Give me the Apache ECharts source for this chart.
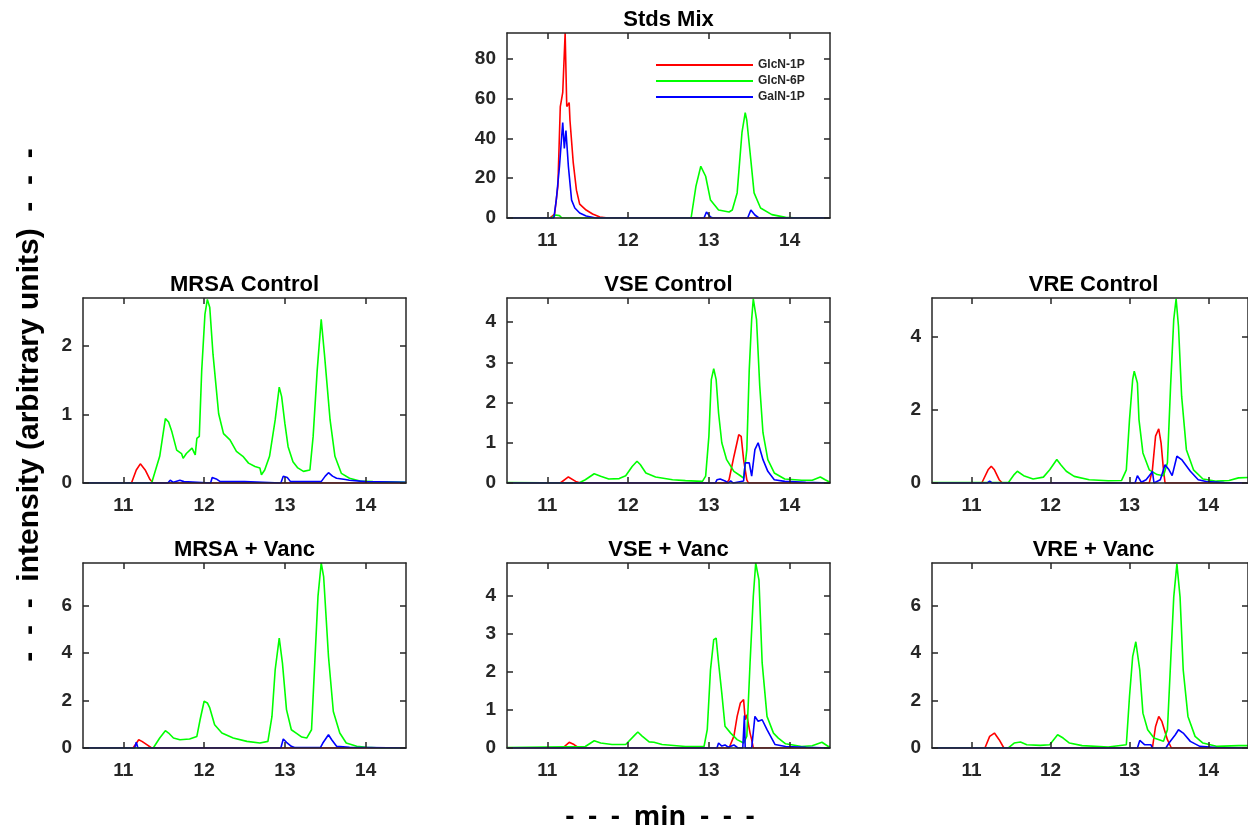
<!DOCTYPE html>
<html>
<head>
<meta charset="utf-8">
<script src="https://cdn.jsdelivr.net/npm/echarts@6/dist/echarts.min.js"></script>
<style>
  html, body { margin: 0; padding: 0; background: #fff; }
  #main { width: 1248px; height: 835px; }
</style>
</head>
<body>
<div id="main"></div>
<script>
// ---- data (time in min, intensity) ----
var compoundNames = ['GlcN-1P', 'GlcN-6P', 'GalN-1P'];
var panelTitles = ['Stds Mix', 'MRSA Control', 'VSE Control', 'VRE Control', 'MRSA + Vanc', 'VSE + Vanc', 'VRE + Vanc'];
var timeTicks = [11, 12, 13, 14];
var yTickValues = [
  [0, 20, 40, 60, 80],
  [0, 1, 2],
  [0, 1, 2, 3, 4],
  [0, 2, 4],
  [0, 2, 4, 6],
  [0, 1, 2, 3, 4],
  [0, 2, 4, 6]
];
var yMaxValues = [93, 2.7, 4.6, 5.05, 7.8, 4.85, 7.8];

var stdsGlcN1P = [[10.5,0],[11.03,0],[11.09,2],[11.13,16],[11.16,56],[11.19,63],[11.22,93],[11.24,56],[11.27,58],[11.28,49],[11.32,28],[11.36,14],[11.40,7],[11.48,4],[11.56,2],[11.65,0.5],[11.75,0],[14.5,0]];
var stdsGlcN6P = [[10.5,0],[11.05,0],[11.1,1.5],[11.15,1.2],[11.18,0],[12.78,0],[12.84,16],[12.9,26],[12.92,27],[12.96,21],[13.02,9],[13.12,4],[13.25,3],[13.29,4],[13.35,12.6],[13.41,43],[13.45,53],[13.47,49],[13.52,29],[13.56,12.6],[13.64,5],[13.78,1.7],[13.95,0.3],[14.1,0],[14.5,0]];
var stdsGalN1P = [[10.5,0],[11.08,0],[11.11,9],[11.15,26],[11.19,48],[11.21,35],[11.23,44],[11.26,26],[11.30,9],[11.34,5],[11.40,2.5],[11.48,1],[11.6,0],[12.94,0],[12.97,3],[13.02,0.5],[13.05,0],[13.48,0],[13.52,4],[13.57,1.5],[13.62,0],[14.5,0]];

var mrsaCtrlGlcN1P = [[10.5,0],[11.10,0],[11.16,0.19],[11.21,0.28],[11.27,0.19],[11.33,0.05],[11.37,0],[14.5,0]];
var mrsaCtrlGlcN6P = [[10.5,0],[11.35,0],[11.37,0.02],[11.45,0.39],[11.52,0.94],[11.56,0.89],[11.60,0.75],[11.66,0.48],[11.72,0.43],[11.74,0.36],[11.78,0.43],[11.85,0.51],[11.89,0.41],[11.91,0.65],[11.94,0.68],[11.97,1.64],[12.01,2.46],[12.04,2.68],[12.07,2.56],[12.11,1.88],[12.18,1.01],[12.24,0.72],[12.32,0.63],[12.40,0.46],[12.48,0.39],[12.55,0.29],[12.63,0.24],[12.69,0.22],[12.71,0.12],[12.75,0.19],[12.81,0.39],[12.88,0.92],[12.93,1.40],[12.96,1.26],[13.00,0.87],[13.04,0.53],[13.10,0.31],[13.16,0.22],[13.23,0.17],[13.31,0.19],[13.35,0.68],[13.40,1.64],[13.45,2.39],[13.49,1.88],[13.56,0.92],[13.62,0.39],[13.70,0.14],[13.80,0.07],[13.93,0.03],[14.09,0.02],[14.5,0.01]];
var mrsaCtrlGalN1P = [[10.5,0],[11.55,0],[11.58,0.04],[11.62,0.01],[11.7,0.04],[11.75,0.02],[12.08,0],[12.1,0.08],[12.15,0.06],[12.2,0.02],[12.5,0.02],[12.95,0],[12.98,0.1],[13.03,0.08],[13.07,0.02],[13.45,0.02],[13.5,0.1],[13.54,0.15],[13.59,0.1],[13.64,0.07],[13.75,0.05],[13.8,0.04],[14.0,0.02],[14.5,0.01]];

var vseCtrlGlcN1P = [[10.5,0],[11.16,0],[11.26,0.15],[11.35,0.04],[11.41,0],[13.22,0],[13.25,0.08],[13.31,0.66],[13.37,1.2],[13.40,1.16],[13.43,0.58],[13.47,0.08],[13.49,0],[14.5,0]];
var vseCtrlGlcN6P = [[10.5,0.01],[11.39,0],[11.47,0.08],[11.58,0.23],[11.66,0.17],[11.76,0.1],[11.89,0.11],[11.97,0.18],[12.05,0.41],[12.11,0.54],[12.15,0.46],[12.22,0.25],[12.34,0.15],[12.55,0.08],[12.71,0.06],[12.92,0.04],[12.96,0.17],[13.00,1.16],[13.03,2.57],[13.06,2.84],[13.09,2.57],[13.12,1.74],[13.16,1.0],[13.22,0.58],[13.31,0.29],[13.39,0.18],[13.43,0.12],[13.47,0.83],[13.50,2.82],[13.53,4.07],[13.55,4.58],[13.59,4.07],[13.63,2.41],[13.67,1.25],[13.73,0.58],[13.81,0.25],[13.94,0.1],[14.15,0.07],[14.28,0.07],[14.38,0.15],[14.44,0.08],[14.5,0.02]];
var vseCtrlGalN1P = [[10.5,0],[13.08,0],[13.1,0.08],[13.14,0.1],[13.2,0.05],[13.24,0],[13.27,0.05],[13.3,0],[13.43,0.05],[13.45,0.5],[13.50,0.5],[13.53,0.17],[13.57,0.83],[13.61,1.0],[13.67,0.58],[13.73,0.29],[13.81,0.08],[13.94,0.04],[14.2,0.02],[14.5,0]];

var vreCtrlGlcN1P = [[10.5,0],[11.13,0],[11.21,0.36],[11.25,0.46],[11.29,0.36],[11.35,0.09],[11.39,0],[13.25,0],[13.29,0.36],[13.33,1.28],[13.37,1.48],[13.40,1.09],[13.43,0.36],[13.45,0],[14.5,0]];
var vreCtrlGlcN6P = [[10.5,0.01],[11.47,0.02],[11.54,0.23],[11.58,0.32],[11.66,0.2],[11.78,0.11],[11.91,0.16],[11.99,0.36],[12.08,0.64],[12.13,0.5],[12.20,0.32],[12.30,0.18],[12.49,0.09],[12.73,0.06],[12.90,0.07],[12.96,0.36],[13.00,1.73],[13.04,2.82],[13.06,3.05],[13.10,2.73],[13.12,1.73],[13.17,0.82],[13.25,0.36],[13.35,0.23],[13.43,0.2],[13.48,0.55],[13.52,2.64],[13.56,4.46],[13.59,5.03],[13.62,4.28],[13.66,2.37],[13.72,0.91],[13.81,0.36],[13.93,0.11],[14.10,0.05],[14.26,0.07],[14.38,0.14],[14.5,0.15]];
var vreCtrlGalN1P = [[10.5,0],[11.2,0],[11.23,0.05],[11.26,0],[13.07,0],[13.10,0.2],[13.15,0.02],[13.21,0.09],[13.27,0.25],[13.29,0.32],[13.31,0],[13.39,0.09],[13.45,0.5],[13.50,0.36],[13.54,0.2],[13.60,0.73],[13.66,0.64],[13.77,0.32],[13.87,0.09],[13.97,0.04],[14.2,0.01],[14.5,0]];

var mrsaVancGlcN1P = [[10.5,0],[11.12,0],[11.19,0.35],[11.23,0.28],[11.29,0.14],[11.35,0],[14.5,0]];
var mrsaVancGlcN6P = [[10.5,0],[11.37,0],[11.39,0.03],[11.45,0.42],[11.52,0.73],[11.56,0.63],[11.62,0.42],[11.70,0.35],[11.82,0.38],[11.91,0.49],[11.95,1.19],[12.0,1.97],[12.04,1.9],[12.07,1.69],[12.13,0.98],[12.22,0.63],[12.36,0.42],[12.53,0.28],[12.69,0.21],[12.79,0.28],[12.84,1.33],[12.88,3.3],[12.93,4.63],[12.97,3.58],[13.02,1.62],[13.08,0.77],[13.14,0.63],[13.21,0.46],[13.27,0.42],[13.33,0.77],[13.37,3.58],[13.41,6.39],[13.45,7.8],[13.48,7.23],[13.54,3.86],[13.60,1.54],[13.68,0.63],[13.76,0.21],[13.89,0.07],[14.01,0.03],[14.2,0],[14.5,0]];
var mrsaVancGalN1P = [[10.5,0],[11.14,0],[11.16,0.24],[11.18,0],[11.54,0],[11.56,0.06],[11.58,0],[12.03,0],[12.05,0.05],[12.08,0],[12.95,0],[12.98,0.38],[13.02,0.24],[13.08,0.07],[13.12,0.02],[13.44,0.02],[13.47,0.21],[13.54,0.56],[13.58,0.35],[13.64,0.07],[13.8,0.03],[14.5,0]];

var vseVancGlcN1P = [[10.5,0],[11.19,0],[11.27,0.15],[11.33,0.09],[11.39,0],[13.25,0],[13.31,0.31],[13.35,0.83],[13.39,1.18],[13.43,1.27],[13.45,0.74],[13.47,0.87],[13.51,0.39],[13.53,0.22],[13.55,0],[14.5,0]];
var vseVancGlcN6P = [[10.5,0.01],[11.47,0.04],[11.58,0.19],[11.66,0.13],[11.80,0.09],[11.97,0.09],[12.07,0.31],[12.12,0.42],[12.17,0.32],[12.26,0.16],[12.32,0.15],[12.42,0.09],[12.71,0.04],[12.94,0.04],[12.98,0.48],[13.02,2.05],[13.06,2.84],[13.09,2.88],[13.12,2.23],[13.16,1.44],[13.20,0.57],[13.27,0.39],[13.35,0.22],[13.43,0.13],[13.47,0.31],[13.51,2.23],[13.55,3.97],[13.58,4.85],[13.62,4.41],[13.66,2.23],[13.72,0.83],[13.80,0.39],[13.86,0.26],[13.95,0.11],[14.15,0.04],[14.28,0.06],[14.40,0.15],[14.48,0.04],[14.5,0.04]];
var vseVancGalN1P = [[10.5,0],[13.1,0],[13.12,0.13],[13.16,0.05],[13.2,0.08],[13.24,0.02],[13.31,0.08],[13.36,0],[13.42,0],[13.44,0.85],[13.45,0],[13.53,0],[13.57,0.83],[13.61,0.7],[13.66,0.74],[13.72,0.48],[13.82,0.09],[13.95,0.04],[14.2,0.02],[14.5,0]];

var vreVancGlcN1P = [[10.5,0],[11.17,0],[11.23,0.49],[11.29,0.63],[11.35,0.35],[11.41,0],[13.29,0],[13.33,0.91],[13.37,1.33],[13.41,1.12],[13.48,0.35],[13.53,0],[14.5,0]];
var vreVancGlcN6P = [[10.5,0.01],[11.47,0.02],[11.54,0.21],[11.62,0.25],[11.70,0.14],[11.87,0.11],[11.99,0.14],[12.09,0.56],[12.16,0.42],[12.24,0.21],[12.40,0.1],[12.73,0.04],[12.96,0.14],[13.0,2.17],[13.04,3.85],[13.08,4.48],[13.13,3.29],[13.17,1.47],[13.23,0.77],[13.31,0.42],[13.43,0.28],[13.48,0.77],[13.52,3.57],[13.56,6.36],[13.60,7.76],[13.64,6.36],[13.68,3.29],[13.74,1.33],[13.83,0.49],[13.93,0.21],[14.10,0.07],[14.38,0.1],[14.5,0.1]];
var vreVancGalN1P = [[10.5,0],[13.1,0],[13.13,0.32],[13.19,0.14],[13.27,0.14],[13.29,0],[13.46,0],[13.50,0.21],[13.58,0.56],[13.62,0.77],[13.68,0.63],[13.77,0.28],[13.89,0.07],[14.1,0.02],[14.5,0]];

var panelData = [
  [stdsGlcN1P, stdsGlcN6P, stdsGalN1P],
  [mrsaCtrlGlcN1P, mrsaCtrlGlcN6P, mrsaCtrlGalN1P],
  [vseCtrlGlcN1P, vseCtrlGlcN6P, vseCtrlGalN1P],
  [vreCtrlGlcN1P, vreCtrlGlcN6P, vreCtrlGalN1P],
  [mrsaVancGlcN1P, mrsaVancGlcN6P, mrsaVancGalN1P],
  [vseVancGlcN1P, vseVancGlcN6P, vseVancGalN1P],
  [vreVancGlcN1P, vreVancGlcN6P, vreVancGalN1P]
];

// ---- layout ----
var gridPos = [[507, 33], [83, 298], [507, 298], [932, 298], [83, 563], [507, 563], [932, 563]];
var gridW = 323, gridH = 185;
var colors = ['#ff0000', '#00ff00', '#0000ff'];
var axisColor = '#262626';
var fontFamily = '"Liberation Sans", Arial, sans-serif';

var chart = echarts.init(document.getElementById('main'));

var grids = [], xAxes = [], yAxes = [], series = [], graphics = [];

function lineStyle() {
  return { show: true, onZero: false, lineStyle: { color: axisColor, width: 1.5 } };
}
function tickStyle(vals) {
  return { show: true, inside: true, length: 6, customValues: vals, lineStyle: { color: axisColor, width: 1.5 } };
}

for (var i = 0; i < gridPos.length; i++) {
  grids.push({ left: gridPos[i][0], top: gridPos[i][1], width: gridW, height: gridH, show: false });

  // bottom + mirrored top
  xAxes.push({
    type: 'value', gridIndex: i, position: 'bottom', min: 10.5, max: 14.5, z: 5,
    axisLine: lineStyle(), axisTick: tickStyle(timeTicks), splitLine: { show: false },
    axisLabel: { customValues: timeTicks, margin: 13, color: axisColor, fontSize: 19, fontWeight: 'bold', fontFamily: fontFamily }
  });
  xAxes.push({
    type: 'value', gridIndex: i, position: 'top', min: 10.5, max: 14.5, z: 5,
    axisLine: lineStyle(), axisTick: tickStyle(timeTicks), splitLine: { show: false },
    axisLabel: { show: false }
  });

  // left + mirrored right
  yAxes.push({
    type: 'value', gridIndex: i, position: 'left', min: 0, max: yMaxValues[i], z: 5,
    axisLine: lineStyle(), axisTick: tickStyle(yTickValues[i]), splitLine: { show: false },
    axisLabel: { customValues: yTickValues[i], margin: 11, color: axisColor, fontSize: 19, fontWeight: 'bold', fontFamily: fontFamily }
  });
  yAxes.push({
    type: 'value', gridIndex: i, position: 'right', min: 0, max: yMaxValues[i], z: 5,
    axisLine: lineStyle(), axisTick: tickStyle(yTickValues[i]), splitLine: { show: false },
    axisLabel: { show: false }
  });

  for (var k = 0; k < 3; k++) {
    series.push({
      name: compoundNames[k], type: 'line', xAxisIndex: i * 2, yAxisIndex: i * 2,
      data: panelData[i][k], symbol: 'none', showSymbol: false, clip: true, z: 2,
      lineStyle: { color: colors[k], width: 1.6 }, itemStyle: { color: colors[k] }
    });
  }

  graphics.push({
    type: 'text', x: gridPos[i][0] + gridW / 2, y: gridPos[i][1] - 2,
    style: { text: panelTitles[i], textAlign: 'center', textVerticalAlign: 'bottom',
      font: 'bold 22px ' + fontFamily, fill: '#000' }
  });
}

graphics.push({
  type: 'text', x: 30, y: 405, rotation: Math.PI / 2,
  style: { text: '-  -  -  intensity (arbitrary units)  -  -  -', textAlign: 'center', textVerticalAlign: 'middle',
    font: 'bold 30px ' + fontFamily, fill: '#000' }
});
graphics.push({
  type: 'text', x: 660, y: 817,
  style: { text: '-  -  -  min  -  -  -', textAlign: 'center', textVerticalAlign: 'middle',
    font: 'bold 27px "Open Sans", ' + fontFamily, fill: '#000' }
});

var option = {
  animation: false,
  backgroundColor: '#fff',
  grid: grids,
  xAxis: xAxes,
  yAxis: yAxes,
  legend: {
    data: compoundNames,
    orient: 'vertical', left: 650, top: 54,
    itemWidth: 97, itemHeight: 14, itemGap: 4, itemStyle: { opacity: 0 },
    textStyle: { fontSize: 12, fontWeight: 'bold', color: axisColor, fontFamily: fontFamily },
    selectedMode: false
  },
  series: series,
  graphic: graphics
};

chart.setOption(option);
</script>
</body>
</html>
